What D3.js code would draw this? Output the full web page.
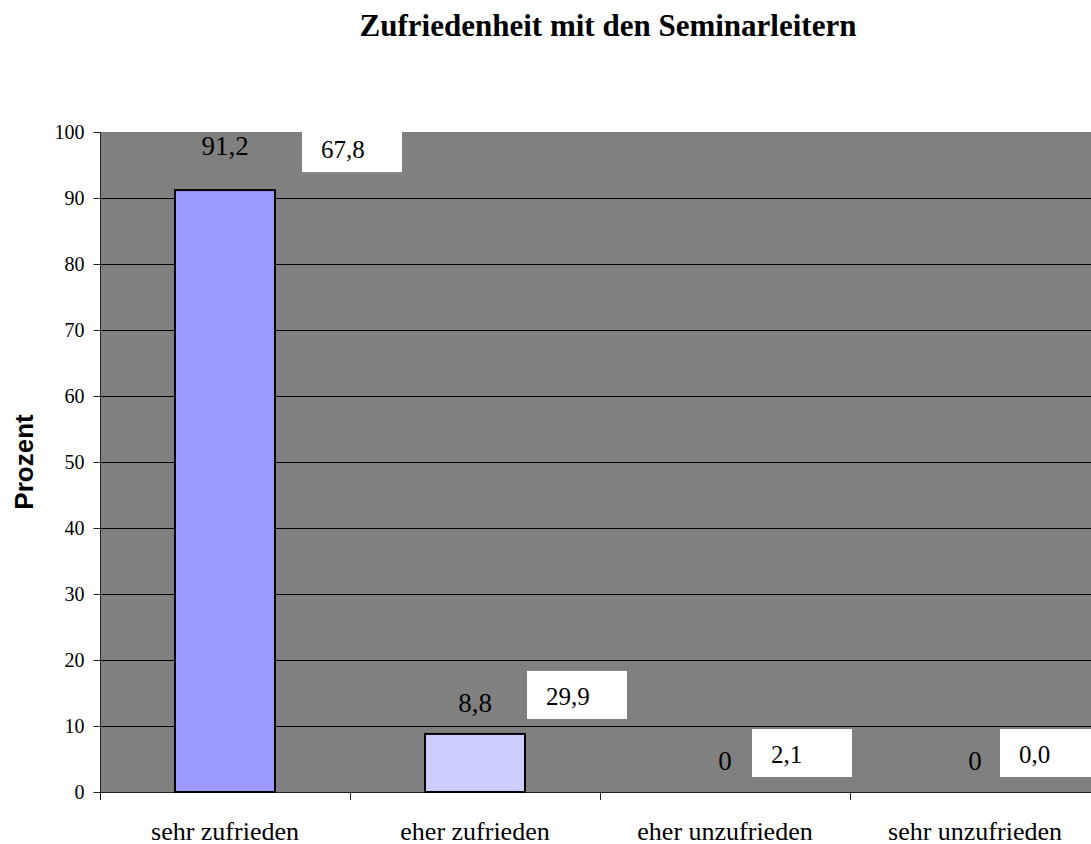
<!DOCTYPE html>
<html>
<head>
<meta charset="utf-8">
<script src="https://cdn.jsdelivr.net/npm/d3@7"></script>
<style>
  html, body { margin: 0; padding: 0; background: #ffffff; }
  svg { display: block; }
</style>
</head>
<body>
<script>
const categories = ["sehr zufrieden", "eher zufrieden", "eher unzufrieden", "sehr unzufrieden"];
const seriesA = [91.2, 8.8, 0, 0];
const seriesALabels = ["91,2", "8,8", "0", "0"];
const seriesB = [67.8, 29.9, 2.1, 0.0];
const seriesBLabels = ["67,8", "29,9", "2,1", "0,0"];
const barColors = ["#9999FF", "#CCCCFF", "#9999FF", "#CCCCFF"];
const yTicks = [0, 10, 20, 30, 40, 50, 60, 70, 80, 90, 100];
const titleText = "Zufriedenheit mit den Seminarleitern";
const yAxisTitle = "Prozent";

const W = 1091, H = 844;
const plot = { left: 100, right: 1100, top: 132, bottom: 792 };

const svg = d3.select("body").append("svg").attr("width", W).attr("height", H);

const x = d3.scaleBand().domain(categories).range([plot.left, plot.right]).padding(0);
const y = d3.scaleLinear().domain([0, 100]).range([plot.bottom, plot.top]);

// plot background
svg.append("rect")
  .attr("x", plot.left).attr("y", plot.top)
  .attr("width", plot.right - plot.left).attr("height", plot.bottom - plot.top)
  .attr("fill", "#808080");

// gridlines
svg.append("g").selectAll("line").data(yTicks.filter(d => d > 0 && d < 100)).join("line")
  .attr("x1", plot.left).attr("x2", plot.right)
  .attr("y1", d => Math.round(y(d)) + 0.5).attr("y2", d => Math.round(y(d)) + 0.5)
  .attr("stroke", "#000").attr("stroke-width", 1);

// y axis
const yAxis = d3.axisLeft(y).tickValues(yTicks).tickSize(7).tickPadding(9).tickFormat(d3.format("d"));
const gy = svg.append("g").attr("transform", `translate(${plot.left + 0.5},0)`).call(yAxis);
gy.select(".domain").attr("stroke", "#222").attr("d", `M0,${plot.top}V${plot.bottom + 8}`);
gy.selectAll(".tick line").attr("stroke", "#222");
gy.selectAll(".tick text").attr("font-family", "'Liberation Serif', 'Times New Roman', serif")
  .attr("font-size", 20).attr("fill", "#000");

// x axis
const xAxis = d3.axisBottom(x).tickSize(0).tickPadding(0);
const gx = svg.append("g").attr("transform", `translate(0,${plot.bottom + 0.5})`).call(xAxis);
gx.select(".domain").attr("stroke", "#222").attr("d", `M${plot.left},0H${plot.right}`);
gx.selectAll(".tick text")
  .attr("font-family", "'Liberation Serif', 'Times New Roman', serif")
  .attr("font-size", 26).attr("fill", "#000")
  .attr("dy", 0).attr("y", 47);
// category separators tick marks
svg.append("g").selectAll("line").data(categories.slice(1)).join("line")
  .attr("x1", d => Math.round(x(d)) + 0.5).attr("x2", d => Math.round(x(d)) + 0.5)
  .attr("y1", plot.bottom).attr("y2", plot.bottom + 8)
  .attr("stroke", "#222");

// bars
const barW = x.bandwidth() * 0.4;
svg.append("g").selectAll("rect").data(categories).join("rect")
  .attr("x", (d) => x(d) + (x.bandwidth() - barW) / 2)
  .attr("y", (d, i) => y(seriesA[i]))
  .attr("width", barW)
  .attr("height", (d, i) => y(0) - y(seriesA[i]))
  .attr("fill", (d, i) => barColors[i])
  .attr("stroke", "#000").attr("stroke-width", 2)
  .style("display", (d, i) => seriesA[i] > 0 ? null : "none");

// label geometry
const lab = categories.map((c, i) => {
  const cx = x(c) + x.bandwidth() / 2;
  const yv = y(seriesA[i]);
  const rawTop = yv - 63;
  const clamped = rawTop < plot.top;
  const boxTop = Math.max(plot.top, rawTop);
  const boxBottom = clamped ? yv - 18 : yv - 15;
  const boxLeft = cx + Math.max(25, 77 - 25 * i);
  const labelY = clamped ? boxTop + 23 : yv - 22;
  return { cx, boxTop, boxBottom, boxLeft, labelY };
});

// series B white label boxes
const gb = svg.append("g");
gb.selectAll("rect").data(seriesB).join("rect")
  .attr("x", (d, i) => lab[i].boxLeft)
  .attr("y", (d, i) => lab[i].boxTop)
  .attr("width", 100)
  .attr("height", (d, i) => lab[i].boxBottom - lab[i].boxTop)
  .attr("fill", "#fff");
gb.selectAll("text").data(seriesBLabels).join("text")
  .attr("x", (d, i) => lab[i].boxLeft + 19)
  .attr("y", (d, i) => lab[i].boxBottom - 14)
  .attr("font-family", "'Liberation Serif', 'Times New Roman', serif")
  .attr("font-size", 25).attr("fill", "#000")
  .text(d => d);

// series A value labels
svg.append("g").selectAll("text").data(seriesALabels).join("text")
  .attr("x", (d, i) => lab[i].cx)
  .attr("y", (d, i) => lab[i].labelY)
  .attr("text-anchor", "middle")
  .attr("font-family", "'Liberation Serif', 'Times New Roman', serif")
  .attr("font-size", 27).attr("fill", "#000")
  .text(d => d);

// title
svg.append("text")
  .attr("x", 608).attr("y", 36)
  .attr("text-anchor", "middle")
  .attr("font-family", "'Liberation Serif', 'Times New Roman', serif")
  .attr("font-weight", "bold").attr("font-size", 31).attr("fill", "#000")
  .text(titleText);

// y axis title
svg.append("text")
  .attr("transform", "translate(33,462) rotate(-90)")
  .attr("text-anchor", "middle")
  .attr("font-family", "'Liberation Sans', Arial, sans-serif")
  .attr("font-weight", "bold").attr("font-size", 26).attr("fill", "#000")
  .text(yAxisTitle);
</script>
</body>
</html>
